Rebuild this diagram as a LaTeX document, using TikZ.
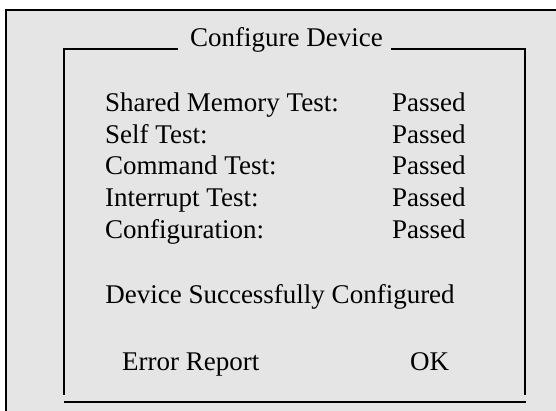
\documentclass[tikz,border=0pt]{standalone}
\usepackage{fontspec}
\setmainfont{Liberation Serif}
\begin{document}
\begin{tikzpicture}[x=1pt,y=-1pt,
  txt/.style={anchor=base west,inner sep=0pt,font=\fontsize{27}{31}\selectfont},
  frame/.style={line width=2.5pt,black}]
\useasboundingbox (0,0) rectangle (556,411);
\fill[white] (0,0) rectangle (556,411);
\fill[gray!20] (6,10) rectangle (560,415);
\draw[frame] (560,10) -- (6,10) -- (6,415);
% inner frame
\node[txt] (title) at (190,47) {Configure Device};
\coordinate (tl) at (64,49);
\coordinate (tr) at (525,49);
\draw[frame] (178,49) -- (tl) -- (64,395);
\draw[frame] (391,49) -- (tr) -- (525,395);
\draw[frame] (64,402) -- (526,402);
% tests
\node[txt] (l1) at (105,112) {Shared Memory Test:};
\node[txt] (l2) at (105,143.5) {Self Test:};
\node[txt] (l3) at (105,175) {Command Test:};
\node[txt] (l4) at (105,207) {Interrupt Test:};
\node[txt] (l5) at (105,239) {Configuration:};
\node[txt] (p1) at (392,112) {Passed};
\node[txt] (p2) at (392,143.5) {Passed};
\node[txt] (p3) at (392,175) {Passed};
\node[txt] (p4) at (392,207) {Passed};
\node[txt] (p5) at (392,239) {Passed};
\node[txt,anchor=base] (msg) at (280,303) {Device Successfully Configured};
\node[txt] (err) at (122,370) {Error Report};
\node[txt] (ok) at (410,370) {OK};
\end{tikzpicture}
\end{document}
